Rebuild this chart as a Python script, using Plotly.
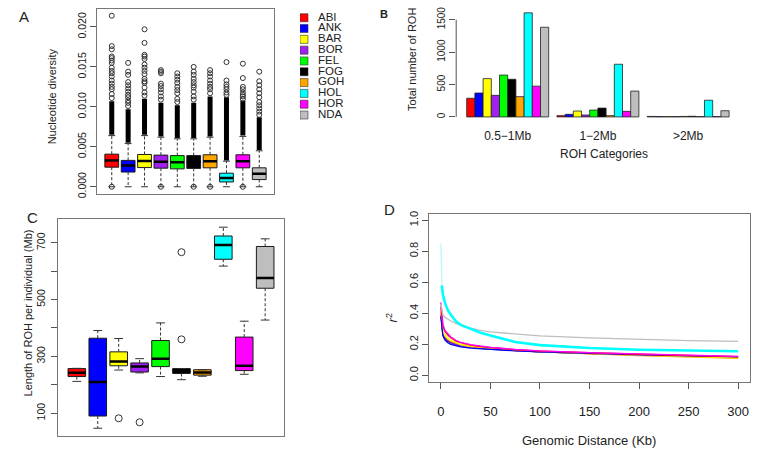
import plotly.graph_objects as go

W, H = 757, 457
FONT = "Liberation Sans, Arial, sans-serif"

# ---------------- shared categories ----------------
pops = ["ABI", "ANK", "BAR", "BOR", "FEL", "FOG", "GOH", "HOL", "HOR", "NDA"]
pop_colors = ["#FF0000", "#0000FF", "#FFFF00", "#A020F0", "#00FF00",
              "#000000", "#FFA500", "#00FFFF", "#FF00FF", "#BEBEBE"]

# ---------------- Panel A: nucleotide diversity ----------------
divA_q1 = [0.00245, 0.00184, 0.00240, 0.00233, 0.00224, 0.00230, 0.00237, 0.00060, 0.00237, 0.00090]
divA_med = [0.00330, 0.00265, 0.00322, 0.00314, 0.00306, 0.00310, 0.00320, 0.00110, 0.00320, 0.00163]
divA_q3 = [0.00408, 0.00330, 0.00404, 0.00396, 0.00390, 0.00390, 0.00400, 0.00170, 0.00400, 0.00237]
divA_lo = [0.0, 0.0, 0.0, 0.0, 0.0, 0.0, 0.0, 0.0, 0.0, 0.0]
divA_hi = [0.0064, 0.0054, 0.0064, 0.0062, 0.0060, 0.0060, 0.0062, 0.0032, 0.0063, 0.0045]
# dense (overlapping) outlier runs
divA_dense_lo = [0.0065, 0.0055, 0.0065, 0.0063, 0.0061, 0.0061, 0.0063, 0.0033, 0.0064, 0.0046]
divA_dense_hi = [0.0107, 0.0097, 0.0110, 0.0105, 0.0102, 0.0105, 0.0113, 0.0112, 0.0108, 0.0087]
# individually visible outliers
divA_out = {
    "ABI": [0.0111, 0.0116, 0.0122, 0.0125, 0.0129, 0.0133, 0.0138, 0.0142, 0.0145, 0.0149,
            0.0155, 0.0158, 0.0161, 0.0163, 0.0172, 0.0176, 0.0214],
    "ANK": [0.0101, 0.0105, 0.0108, 0.0112, 0.0115, 0.0119, 0.0123, 0.0127, 0.0131, 0.0140,
            0.0144, 0.0155],
    "BAR": [0.0114, 0.0118, 0.0124, 0.0130, 0.0132, 0.0135, 0.0141, 0.0145, 0.0149, 0.0153,
            0.0160, 0.0163, 0.0165, 0.0180, 0.0197],
    "BOR": [0.0109, 0.0113, 0.0118, 0.0122, 0.0126, 0.0129, 0.0142, 0.0144, 0.0146],
    "FEL": [0.0106, 0.0110, 0.0117, 0.0121, 0.0125, 0.0130, 0.0134, 0.0138, 0.0142],
    "FOG": [0.0109, 0.0113, 0.0119, 0.0124, 0.0127, 0.0131, 0.0135, 0.0140, 0.0144, 0.0150],
    "GOH": [0.0117, 0.0122, 0.0125, 0.0129, 0.0133, 0.0138, 0.0142, 0.0146],
    "HOL": [0.0115, 0.0118, 0.0122, 0.0125, 0.0128, 0.0133, 0.0156],
    "HOR": [0.0110, 0.0113, 0.0115, 0.0118, 0.0122, 0.0125, 0.0136, 0.0154],
    "NDA": [0.0090, 0.0094, 0.0098, 0.0102, 0.0106, 0.0112, 0.0117, 0.0122, 0.0127, 0.0132,
            0.0144],
}
divA_zero_out = ["ABI", "BOR", "FOG", "GOH", "HOR"]
divA_ticks = [0.000, 0.005, 0.010, 0.015, 0.020]

# ---------------- Panel B: number of ROH ----------------
roh_cats = ["0.5\u22121Mb", "1\u22122Mb", ">2Mb"]
roh_05_1 = [288, 369, 591, 333, 646, 581, 313, 1606, 475, 1384]
roh_1_2 = [20, 40, 91, 30, 106, 136, 20, 813, 86, 399]
roh_gt2 = [8, 5, 5, 5, 8, 10, 5, 258, 5, 96]
rohB_ticks = [0, 500, 1000, 1500]

# ---------------- Panel C: ROH length per individual ----------------
lenC_q1 = [229, 90, 267, 245, 264, 240, 234, 642, 250, 540]
lenC_med = [242, 210, 282, 264, 292, 251, 243, 692, 267, 576]
lenC_q3 = [257, 364, 316, 277, 356, 257, 253, 724, 368, 687]
lenC_lo = [212, 47, 252, 242, 229, 218, 230, 618, 237, 428]
lenC_hi = [258, 391, 363, 292, 418, 257, 253, 755, 424, 714]
lenC_out_pop = ["BAR", "BOR", "FOG", "FOG"]
lenC_out_val = [82, 68, 360, 667]
lenC_ticks = [100, 300, 500, 700]
lenC_minor_ticks = [200, 400, 600]

# ---------------- Panel D: LD decay ----------------
distD = [0, 1, 2, 4, 7, 10, 15, 20, 30, 40, 50, 75, 100, 150, 200, 250, 300]
r2D = {
    "ABI": [0.44, 0.36, 0.32, 0.285, 0.26, 0.243, 0.222, 0.21, 0.195, 0.185, 0.178, 0.165, 0.156, 0.145, 0.136, 0.128, 0.121],
    "ANK": [0.38, 0.29, 0.255, 0.228, 0.21, 0.20, 0.19, 0.184, 0.176, 0.171, 0.167, 0.158, 0.151, 0.14, 0.132, 0.125, 0.119],
    "BAR": [0.42, 0.33, 0.29, 0.26, 0.238, 0.225, 0.21, 0.20, 0.189, 0.181, 0.175, 0.163, 0.155, 0.142, 0.131, 0.121, 0.113],
    "BOR": [0.40, 0.31, 0.272, 0.245, 0.226, 0.214, 0.20, 0.192, 0.182, 0.175, 0.17, 0.16, 0.152, 0.141, 0.132, 0.125, 0.118],
    "FEL": [0.41, 0.32, 0.28, 0.25, 0.23, 0.218, 0.203, 0.194, 0.184, 0.176, 0.171, 0.16, 0.152, 0.141, 0.132, 0.124, 0.117],
    "GOH": [0.41, 0.32, 0.28, 0.252, 0.232, 0.22, 0.206, 0.197, 0.186, 0.178, 0.172, 0.16, 0.152, 0.139, 0.128, 0.118, 0.11],
    "HOR": [0.47, 0.38, 0.33, 0.29, 0.265, 0.247, 0.226, 0.213, 0.198, 0.188, 0.18, 0.167, 0.158, 0.146, 0.137, 0.129, 0.122],
    "FOG": [0.39, 0.30, 0.265, 0.238, 0.22, 0.21, 0.197, 0.19, 0.181, 0.174, 0.169, 0.159, 0.151, 0.14, 0.131, 0.124, 0.118],
    "NDA": [0.46, 0.41, 0.39, 0.375, 0.36, 0.35, 0.335, 0.323, 0.305, 0.29, 0.28, 0.265, 0.254, 0.241, 0.232, 0.224, 0.219],
    "HOL": [0.85, 0.58, 0.52, 0.47, 0.42, 0.39, 0.35, 0.325, 0.298, 0.275, 0.257, 0.215, 0.195, 0.176, 0.165, 0.158, 0.155],
}
drawD_order = ["FOG", "FEL", "BOR", "GOH", "BAR", "ANK", "ABI", "HOR", "NDA", "HOL"]
distD_ticks = [0, 50, 100, 150, 200, 250, 300]
r2D_ticks = [0.0, 0.2, 0.4, 0.6, 0.8, 1.0]


def fx(p):
    return p / W


def fy(p):
    return 1 - p / H


color_of = dict(zip(pops, pop_colors))
pos_of = {p: i + 1 for i, p in enumerate(pops)}
positions = [pos_of[p] for p in pops]

fig = go.Figure()


def add_boxes(xa, ya, q1, med, q3, lo, hi, bw=0.84):
    fig.add_trace(go.Bar(
        x=positions, y=[b - a for a, b in zip(q1, q3)], base=q1, width=bw,
        marker=dict(color=pop_colors, line=dict(color="#1a1a1a", width=1)),
        xaxis=xa, yaxis=ya, showlegend=False, hoverinfo="skip"))
    wx, wy, sx, sy, mx, my = [], [], [], [], [], []
    for p, a, m, b, l, h in zip(positions, q1, med, q3, lo, hi):
        wx += [p, p, None, p, p, None]
        wy += [b, h, None, a, l, None]
        sx += [p - bw / 4, p + bw / 4, None, p - bw / 4, p + bw / 4, None]
        sy += [h, h, None, l, l, None]
        mx += [p - bw / 2, p + bw / 2, None]
        my += [m, m, None]
    fig.add_trace(go.Scatter(x=wx, y=wy, mode="lines", xaxis=xa, yaxis=ya,
                             line=dict(color="#333", width=1, dash="3px,2px"),
                             showlegend=False, hoverinfo="skip"))
    fig.add_trace(go.Scatter(x=sx, y=sy, mode="lines", xaxis=xa, yaxis=ya,
                             line=dict(color="#333", width=1),
                             showlegend=False, hoverinfo="skip"))
    fig.add_trace(go.Scatter(x=mx, y=my, mode="lines", xaxis=xa, yaxis=ya,
                             line=dict(color="#000", width=2.5),
                             showlegend=False, hoverinfo="skip"))


# ---- Panel A ----
add_boxes("x", "y", divA_q1, divA_med, divA_q3, divA_lo, divA_hi)
dx, dy = [], []
for p, a, b in zip(positions, divA_dense_lo, divA_dense_hi):
    dx += [p, p, None]
    dy += [a, b, None]
fig.add_trace(go.Scatter(x=dx, y=dy, mode="lines", xaxis="x", yaxis="y",
                         line=dict(color="#000", width=5),
                         showlegend=False, hoverinfo="skip"))
ox, oy = [], []
for p in pops:
    ox += [pos_of[p]] * len(divA_out[p])
    oy += divA_out[p]
for p in divA_zero_out:
    ox.append(pos_of[p])
    oy.append(0.0)
fig.add_trace(go.Scatter(x=ox, y=oy, mode="markers", xaxis="x", yaxis="y",
                         marker=dict(symbol="circle-open", size=5, color="#333",
                                     line=dict(width=1)),
                         showlegend=False, hoverinfo="skip"))

# ---- Legend for panel A (drawn on its own hidden axes) ----
fig.add_trace(go.Scatter(x=[4] * len(pops), y=list(range(len(pops))), mode="markers",
                         xaxis="x5", yaxis="y5",
                         marker=dict(symbol="square", size=8, color=pop_colors,
                                     line=dict(color="#333", width=0.6)),
                         showlegend=False, hoverinfo="skip"))
fig.add_trace(go.Scatter(x=[18] * len(pops), y=list(range(len(pops))), mode="text",
                         xaxis="x5", yaxis="y5", text=pops, textposition="middle right",
                         textfont=dict(family=FONT, size=11.5, color="#222"),
                         showlegend=False, hoverinfo="skip"))

# ---- Panel B ----
group_centers = [6, 17, 28]
for i, p in enumerate(pops):
    vals = [roh_05_1[i], roh_1_2[i], roh_gt2[i]]
    xs = [1.5 + i + 11 * g for g in range(3)]
    fig.add_trace(go.Bar(x=xs, y=vals, width=1, xaxis="x2", yaxis="y2",
                         marker=dict(color=pop_colors[i], line=dict(color="#222", width=0.8)),
                         showlegend=False, hoverinfo="skip"))

# ---- Panel C ----
add_boxes("x3", "y3", lenC_q1, lenC_med, lenC_q3, lenC_lo, lenC_hi)
fig.add_trace(go.Scatter(x=[pos_of[p] for p in lenC_out_pop], y=lenC_out_val, mode="markers",
                         xaxis="x3", yaxis="y3",
                         marker=dict(symbol="circle-open", size=7, color="#333",
                                     line=dict(width=1)),
                         showlegend=False, hoverinfo="skip"))

# ---- Panel D ----
for p in drawD_order:
    if p == "HOL":
        # the first (near-zero distance) step is drawn thin and pale, the rest thick
        fig.add_trace(go.Scatter(x=distD[:2], y=r2D[p][:2], mode="lines", xaxis="x4", yaxis="y4",
                                 line=dict(color="#BFF7F7", width=1.3),
                                 showlegend=False, hoverinfo="skip"))
        fig.add_trace(go.Scatter(x=distD[1:], y=r2D[p][1:], mode="lines", xaxis="x4", yaxis="y4",
                                 line=dict(color=color_of[p], width=2.6),
                                 showlegend=False, hoverinfo="skip"))
    else:
        fig.add_trace(go.Scatter(x=distD, y=r2D[p], mode="lines", xaxis="x4", yaxis="y4",
                                 line=dict(color=color_of[p], width=1.3),
                                 showlegend=False, hoverinfo="skip"))

tickfont = dict(family=FONT, size=10.5, color="#222")
frame = dict(showline=True, mirror=True, linecolor="#777", linewidth=1,
             showgrid=False, zeroline=False)

fig.update_layout(
    width=W, height=H, margin=dict(l=0, r=0, t=0, b=0),
    paper_bgcolor="white", plot_bgcolor="white", barmode="overlay",
    font=dict(family=FONT, color="#222"),
    # Panel A
    xaxis=dict(domain=[fx(97), fx(274)], range=[0.1, 10.9], showticklabels=False,
               ticks="", anchor="y", **frame),
    yaxis=dict(domain=[fy(194), fy(6)], range=[-0.000856, 0.022256], anchor="x",
               tickvals=divA_ticks, ticktext=["%.3f" % v for v in divA_ticks],
               tickangle=-90, ticks="outside", ticklen=6, tickcolor="#555",
               tickfont=tickfont, ticklabelstandoff=0, **frame),
    # Panel B
    xaxis2=dict(domain=[fx(456.2), fx(739.6)], range=[-0.28, 34.28], anchor="y2",
                tickvals=group_centers, ticktext=roh_cats, ticks="outside", ticklen=4,
                tickcolor="rgba(0,0,0,0)", showline=False, showgrid=False, zeroline=False,
                tickfont=dict(family=FONT, size=12, color="#222")),
    yaxis2=dict(domain=[fy(120.2), fy(5.8)], range=[-64.24, 1670.24], anchor="x2",
                tickvals=rohB_ticks, tickangle=-90, ticks="outside", ticklen=6,
                tickcolor="#555", showline=False, showgrid=False, zeroline=False,
                tickfont=dict(family=FONT, size=10, color="#222"), ticklabelstandoff=0),
    # Panel C
    xaxis3=dict(domain=[fx(58), fx(284)], range=[0.1, 10.9], showticklabels=False,
                ticks="", anchor="y3", **frame),
    yaxis3=dict(domain=[fy(441), fy(220)], range=[18.7, 783.3], anchor="x3",
                tickvals=lenC_ticks, tickangle=-90,
                ticks="outside", ticklen=6, tickcolor="#555", tickfont=tickfont,
                minor=dict(tickvals=lenC_minor_ticks, ticks="outside", ticklen=6,
                           tickcolor="#555", showgrid=False),
                ticklabelstandoff=2, **frame),
    # Panel D
    xaxis4=dict(domain=[fx(429), fx(750)], range=[-12, 312], anchor="y4",
                tickvals=distD_ticks, ticks="outside", ticklen=6, tickcolor="#555",
                tickfont=dict(family=FONT, size=13, color="#222"), ticklabelstandoff=12,
                **frame),
    yaxis4=dict(domain=[fy(385.3), fy(214.7)], range=[-0.04, 1.04], anchor="x4",
                tickvals=r2D_ticks, ticktext=["%.1f" % v for v in r2D_ticks],
                tickangle=-90, ticks="outside", ticklen=6, tickcolor="#555",
                tickfont=dict(family=FONT, size=11, color="#222"), ticklabelstandoff=0,
                **frame),
    # Legend axes (hidden)
    xaxis5=dict(domain=[fx(300), fx(370)], range=[0, 70], visible=False, anchor="y5"),
    yaxis5=dict(domain=[fy(119.5), fy(9.5)], range=[9.5, -0.5], visible=False, anchor="x5"),
)

fig.add_shape(type="line", xref="x2 domain", yref="y2", x0=0, x1=0, y0=0, y1=1500,
              line=dict(color="#555", width=1))

ann = []


def text(x, y, s, size, angle=0, bold=False):
    ann.append(dict(x=fx(x), y=fy(y), xref="paper", yref="paper", text=("<b>%s</b>" % s) if bold else s,
                    showarrow=False, textangle=angle, xanchor="center", yanchor="middle",
                    font=dict(family=FONT, size=size, color="#222")))


text(24, 14, "A", 15)
text(384, 11, "B", 11, bold=True)
text(32, 218, "C", 15)
text(389, 210, "D", 15)
text(52, 95, "Nucleotide diversity", 11, angle=-90)
text(412, 58, "Total number of ROH", 11, angle=-90)
text(604, 154, "ROH Categories", 12)
text(28, 316, "Length of ROH per individual (Mb)", 11, angle=-90)
text(392, 321, "<i>r</i><sup>2</sup>", 13, angle=-90)
text(589, 445, "Genomic Distance (Kb)", 13)
fig.update_layout(annotations=ann)

fig.write_html("out.html", config={"displayModeBar": False}, post_script=(
    "document.documentElement.style.margin='0';"
    "document.body.style.margin='0';document.body.style.padding='0';"
    "document.body.style.overflow='hidden';"))
